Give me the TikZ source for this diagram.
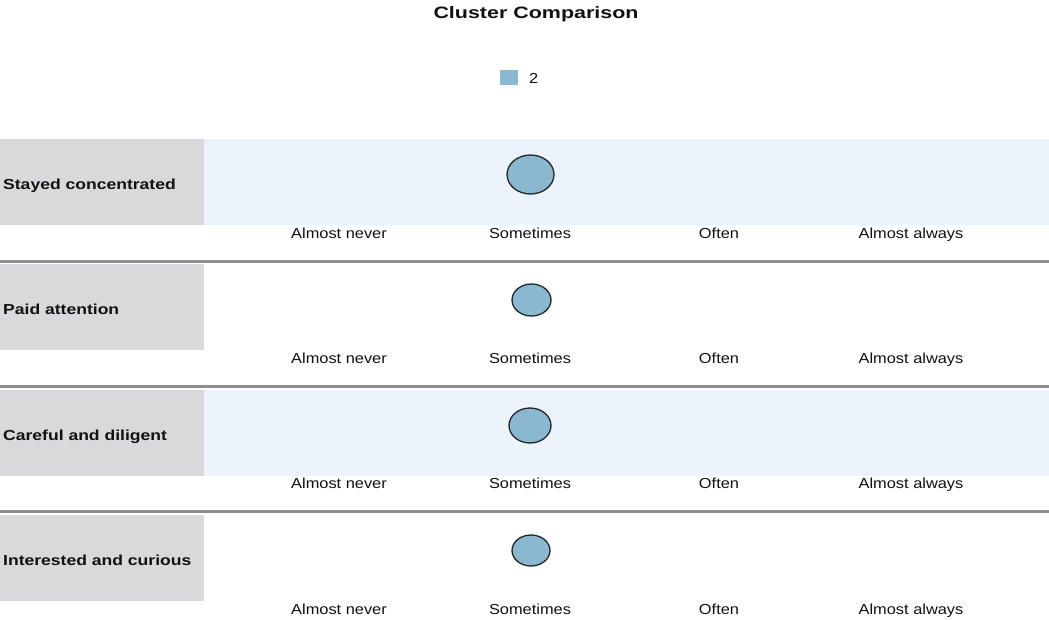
\documentclass[tikz,border=0pt]{standalone}
\usepackage{fontspec}
\setmainfont{Liberation Sans}
\newfontfamily\axisfont[FakeStretch=1.13]{Liberation Sans}
\newfontfamily\rowfont[FakeStretch=1.21]{Liberation Sans}
\newfontfamily\titlefont[FakeStretch=1.3]{Liberation Sans}
\definecolor{labelgray}{HTML}{D9D9DB}
\definecolor{bandblue}{HTML}{EBF4FC}
\definecolor{bubble}{HTML}{8AB8D1}
\definecolor{sepgray}{HTML}{8E8E8E}
\definecolor{txt}{HTML}{111111}
\usetikzlibrary{shapes.geometric}
\tikzset{
  rowlabel/.style={anchor=base west, inner sep=0pt, font=\rowfont\bfseries\fontsize{14.5}{17}\selectfont, text=txt},
  axislabel/.style={anchor=base, inner sep=0pt, font=\axisfont\fontsize{14.5}{16}\selectfont, text=txt},
  bubblenode/.style={ellipse, fill=bubble, draw=black!85, line width=1.3pt, inner sep=0pt},
  sepline/.style={draw=sepgray, line width=2.6pt},
}
\begin{document}
\begin{tikzpicture}[x=1pt,y=-1pt]
\useasboundingbox (0,0) rectangle (1049,620);
\fill[white] (0,0) rectangle (1049,620);
% title and legend
\node[font=\titlefont\bfseries\fontsize{16.5}{18}\selectfont, text=txt, inner sep=0pt, anchor=base] (title) at (536,18.5) {Cluster Comparison};
\fill[bubble] (500,70) rectangle (518,85);
\node[font=\axisfont\fontsize{14.5}{16}\selectfont, text=txt, inner sep=0pt, anchor=base west] (leg) at (529,84) {2};
% row backgrounds
\fill[bandblue] (204,139) rectangle (1049,225);
\fill[bandblue] (204,390) rectangle (1049,476);
\fill[labelgray] (0,139) rectangle (204,225);
\fill[labelgray] (0,264) rectangle (204,350);
\fill[labelgray] (0,390) rectangle (204,476);
\fill[labelgray] (0,515) rectangle (204,601);
% separators
\draw[sepline] (0,261.5) -- (1049,261.5);
\draw[sepline] (0,386.5) -- (1049,386.5);
\draw[sepline] (0,511.5) -- (1049,511.5);
% row labels
\node[rowlabel] (r1) at (3,189.5) {Stayed concentrated};
\node[rowlabel] (r2) at (3,314.5) {Paid attention};
\node[rowlabel] (r3) at (3,440) {Careful and diligent};
\node[rowlabel] (r4) at (3,565) {Interested and curious};
% axis labels
\foreach \yy/\k in {239/1,363.5/2,488.5/3,614/4}{
  \node[axislabel] (an\k) at (339,\yy) {Almost never};
  \node[axislabel] (as\k) at (530,\yy) {Sometimes};
  \node[axislabel] (ao\k) at (719,\yy) {Often};
  \node[axislabel] (aa\k) at (911,\yy) {Almost always};
}
% bubbles
\node[bubblenode, minimum width=47pt, minimum height=39pt] (b1) at (530.5,174.5) {};
\node[bubblenode, minimum width=39pt, minimum height=32pt] (b2) at (531.5,300) {};
\node[bubblenode, minimum width=42pt, minimum height=35pt] (b3) at (530,425.5) {};
\node[bubblenode, minimum width=38pt, minimum height=31pt] (b4) at (531,550.5) {};
\end{tikzpicture}
\end{document}
